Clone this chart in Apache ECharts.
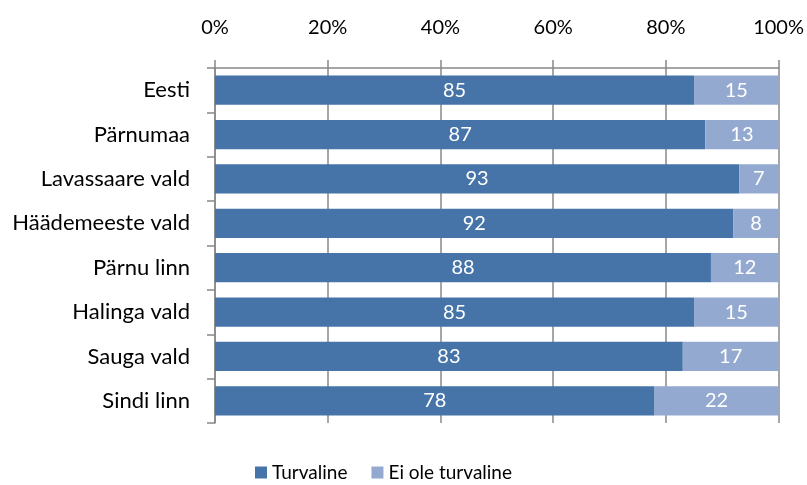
<!DOCTYPE html>
<html><head><meta charset="utf-8">
<script src="https://cdn.jsdelivr.net/npm/echarts@6/dist/echarts.min.js"></script>
<style>html,body{margin:0;padding:0;background:#fff}#c{width:807px;height:485px}</style>
</head><body><div id="c"></div>
<script>
var categories = ["Eesti","Pärnumaa","Lavassaare vald","Häädemeeste vald","Pärnu linn","Halinga vald","Sauga vald","Sindi linn"];
var turvaline = [85,87,93,92,88,85,83,78];
var eiOle = [15,13,7,8,12,15,17,22];
var seriesNames = ["Turvaline","Ei ole turvaline"];
var FONT = "Lato";
var chart = echarts.init(document.getElementById('c'));
var lbl = {show:true, position:'inside', color:'#fff', fontFamily:FONT, fontSize:20};
chart.setOption({
  animation:false,
  grid:{left:215, right:28, top:68, bottom:62},
  legend:{bottom:-2, left:250, itemWidth:12, itemHeight:12, itemGap:24, icon:'rect',
    textStyle:{fontFamily:FONT, fontSize:19, color:'#000'}, data:seriesNames},
  xAxis:{type:'value', position:'top', min:0, max:100, interval:20,
    axisLabel:{formatter:'{value}%', fontFamily:FONT, fontSize:20, color:'#000', margin:30},
    axisLine:{show:true, lineStyle:{color:'#888', width:1.5}},
    axisTick:{show:true, length:8, lineStyle:{color:'#888', width:1.5}},
    splitLine:{show:true, lineStyle:{color:'#888', width:1.5}}},
  yAxis:{type:'category', inverse:true, data:categories,
    axisLabel:{fontFamily:FONT, fontSize:22, color:'#000', margin:25},
    axisLine:{show:true, lineStyle:{color:'#888', width:1.5}},
    axisTick:{show:true, length:8, lineStyle:{color:'#888', width:1.5}}},
  series:[
    {name:seriesNames[0], type:'bar', stack:'a', data:turvaline, barWidth:'66%', itemStyle:{color:'#4674A8'}, label:lbl},
    {name:seriesNames[1], type:'bar', stack:'a', data:eiOle, barWidth:'66%', itemStyle:{color:'#94A9D0'}, label:lbl}
  ]
});
</script></body></html>
